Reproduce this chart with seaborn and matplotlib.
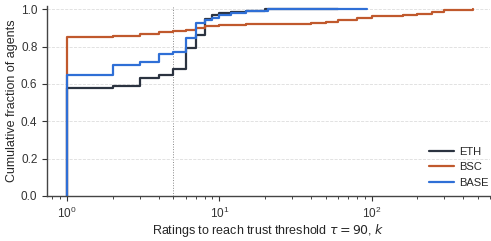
import matplotlib
matplotlib.use("Agg")
import matplotlib.pyplot as plt
import seaborn as sns
import pandas as pd

# step points of the empirical CDFs (ratings k, cumulative fraction)
eth_k = [1, 1, 2, 3, 4, 5, 6, 7, 8, 9, 10, 12, 15, 20, 60]
eth_frac = [0, 0.576, 0.59, 0.63, 0.65, 0.678, 0.79, 0.86, 0.948, 0.972, 0.98, 0.988, 0.993, 1.0, 1.0]

bsc_k = [1, 1, 2, 3, 4, 5, 6, 7, 8, 10, 15, 30, 40, 50, 60, 80, 100, 130, 160, 200, 250, 300, 465]
bsc_frac = [0, 0.852, 0.857, 0.866, 0.877, 0.882, 0.891, 0.90, 0.912, 0.916, 0.92, 0.922, 0.928, 0.934,
            0.94, 0.952, 0.962, 0.966, 0.97, 0.976, 0.985, 0.995, 1.0]

base_k = [1, 1, 2, 3, 4, 5, 6, 7, 8, 9, 10, 12, 15, 21, 93]
base_frac = [0, 0.647, 0.704, 0.717, 0.758, 0.77, 0.847, 0.924, 0.945, 0.955, 0.968, 0.98, 0.99, 1.0, 1.0]

chains = ["ETH", "BSC", "BASE"]
colors = {"ETH": "#2b3340", "BSC": "#c0592d", "BASE": "#2f6fd6"}
threshold_k = 5

sns.set_style("ticks")
plt.rcParams['font.family'] = ['Liberation Sans', 'DejaVu Sans']
plt.rcParams['font.size'] = 8.5

fig = plt.figure(figsize=(4.91, 2.41), dpi=100)
ax = fig.add_axes([0.096, 0.187, 0.902, 0.79])

data = {"ETH": (eth_k, eth_frac), "BSC": (bsc_k, bsc_frac), "BASE": (base_k, base_frac)}
for c in chains:
    df = pd.DataFrame({"k": data[c][0], "frac": data[c][1]})
    sns.lineplot(data=df, x="k", y="frac", ax=ax, estimator=None, sort=False,
                 drawstyle="steps-post", color=colors[c], linewidth=1.6, label=c)

ax.set_xscale("log")
ax.set_xlim(0.74, 600)
ax.set_ylim(0, 1.02)
ax.set_yticks([0.0, 0.2, 0.4, 0.6, 0.8, 1.0])
ax.axvline(threshold_k, color="#888888", linestyle=":", linewidth=0.7, zorder=0)
ax.yaxis.grid(True, linestyle="--", color="#dddddd", linewidth=0.6)
ax.set_axisbelow(True)

ax.set_xlabel(r"Ratings to reach trust threshold $\tau = 90$, $k$", fontsize=9, labelpad=1)
ax.set_ylabel("Cumulative fraction of agents", fontsize=9, labelpad=2)
ax.tick_params(labelsize=8.5, colors="#333333")
ax.tick_params(which="major", length=3.5)
for s in ["left", "bottom"]:
    ax.spines[s].set_color("#444444")
    ax.spines[s].set_linewidth(1.0)
sns.despine(ax=ax)

ax.legend(loc="lower right", frameon=False, fontsize=8, handlelength=2.2,
          handletextpad=0.5, bbox_to_anchor=(1.02, -0.01))

fig.savefig("out.png", dpi=100)
